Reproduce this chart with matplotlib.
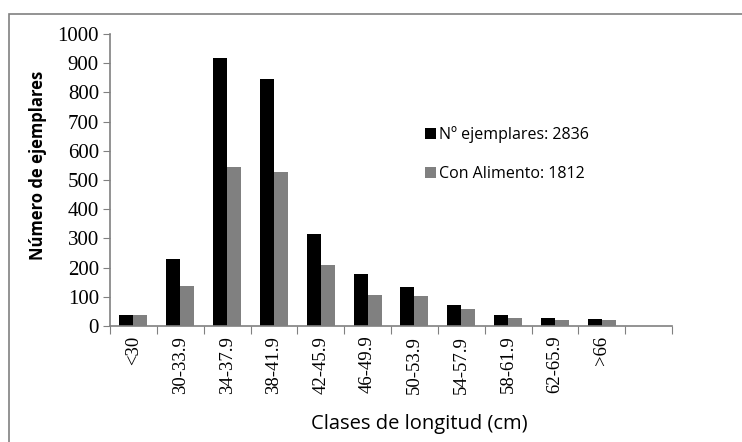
import matplotlib
matplotlib.use("Agg")
import matplotlib.pyplot as plt
import numpy as np
from matplotlib.patches import Rectangle

categories = ["<30", "30-33.9", "34-37.9", "38-41.9", "42-45.9", "46-49.9",
              "50-53.9", "54-57.9", "58-61.9", "62-65.9", ">66", ""]
ejemplares = [37, 229, 918, 846, 314, 177, 133, 71, 37, 26, 23, 0]
con_alimento = [36, 136, 545, 527, 208, 105, 102, 57, 26, 19, 19, 0]
legend_labels = ["Nº ejemplares: 2836", "Con Alimento: 1812"]

fig = plt.figure(figsize=(7.42, 4.42), dpi=100)
ax = fig.add_axes([110/742, 1-326/442, (672-110)/742, (326-34)/442])

# outer frame
fig.patches.append(Rectangle((9/742, -0.1), 1.0, 1 - 14/442 + 0.1, transform=fig.transFigure,
                             fill=False, edgecolor="#808080", linewidth=1.2))

x = np.arange(len(categories)) + 0.5
w = 0.3
ax.bar(x - w/2, ejemplares, width=w, color="black", label=legend_labels[0])
ax.bar(x + w/2, con_alimento, width=w, color="#808080", label=legend_labels[1])

ax.set_xlim(0, len(categories))
ax.set_ylim(0, 1000)
ax.set_yticks(np.arange(0, 1001, 100))
ax.set_xticks(np.arange(0, len(categories) + 1), minor=False)
ax.set_xticklabels([])
ax.set_xticks(x, minor=True)
ax.set_xticklabels(categories, minor=True, rotation=90, fontfamily="Liberation Serif", fontsize=13.5)
ax.tick_params(axis="x", which="minor", length=0, pad=7)
ax.tick_params(axis="x", which="major", length=6, color="#808080", direction="out")
ax.tick_params(axis="y", length=5, color="#808080", direction="out", pad=3)
for lab in ax.get_yticklabels():
    lab.set_fontfamily("Liberation Serif")
    lab.set_fontsize(15)

for s in ["top", "right"]:
    ax.spines[s].set_visible(False)
for s in ["left", "bottom"]:
    ax.spines[s].set_color("#808080")
    ax.spines[s].set_linewidth(1.2)

ax.set_ylabel("Número de ejemplares", fontfamily="Open Sans", fontsize=12,
              fontweight="bold")
ax.yaxis.set_label_coords(-0.112, 0.55)
fig.text(419/742, 1-424/442, "Clases de longitud (cm)", fontfamily="Open Sans", fontsize=14.5,
         ha="center", va="center")

leg = ax.legend(loc="upper left", bbox_to_anchor=(0.535, 0.735), frameon=False,
                prop={"family": "Open Sans", "size": 11.5}, handlelength=0.7, handleheight=0.7,
                handletextpad=0.2, labelspacing=1.45)

fig.savefig("out.png", dpi=100)
